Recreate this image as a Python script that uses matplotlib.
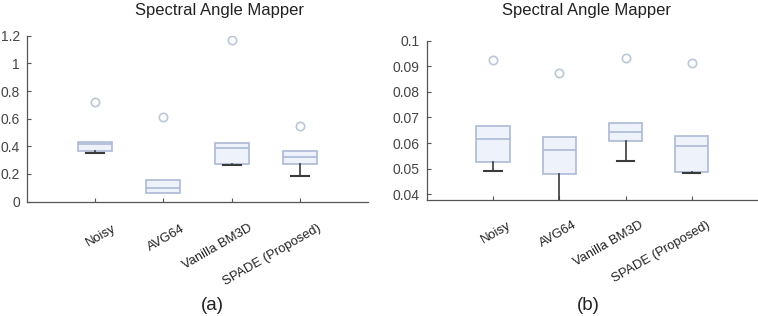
import matplotlib
matplotlib.use("Agg")
import matplotlib.pyplot as plt
from matplotlib.transforms import ScaledTranslation

plt.rcParams['font.family'] = ['Liberation Sans', 'DejaVu Sans']

categories = ["Noisy", "AVG64", "Vanilla BM3D", "SPADE (Proposed)"]

# panel (a)
a_whislo = [0.355, 0.065, 0.265, 0.185]
a_q1 = [0.365, 0.065, 0.27, 0.27]
a_med = [0.415, 0.10, 0.39, 0.32]
a_q3 = [0.43, 0.155, 0.425, 0.365]
a_whishi = [0.43, 0.155, 0.425, 0.365]
a_out = [0.72, 0.61, 1.17, 0.55]

# panel (b)
b_whislo = [0.049, 0.030, 0.0528, 0.0481]
b_q1 = [0.0524, 0.0478, 0.0609, 0.0485]
b_med = [0.0615, 0.0572, 0.0644, 0.0589]
b_q3 = [0.0666, 0.0622, 0.0679, 0.0628]
b_whishi = [0.0666, 0.0622, 0.0679, 0.0628]
b_out = [0.0926, 0.0875, 0.0932, 0.0914]

title = "Spectral Angle Mapper"

edge = "#adbad6"
fill = "#eef2fb"
dark = "#3a3a3a"


def stats(lo, q1, med, q3, hi, out):
    return [dict(whislo=lo[i], q1=q1[i], med=med[i], q3=q3[i], whishi=hi[i],
                 fliers=[out[i]], label=categories[i]) for i in range(len(lo))]


def draw(ax, st, dx, dy):
    res = ax.bxp(st, positions=range(1, len(st) + 1), widths=0.5, capwidths=0.26,
                 patch_artist=True,
                 boxprops=dict(facecolor=fill, edgecolor=edge, linewidth=1.2),
                 medianprops=dict(color=edge, linewidth=1.2),
                 whiskerprops=dict(color=dark, linewidth=1.2),
                 capprops=dict(color=dark, linewidth=1.5),
                 flierprops=dict(marker='o', markerfacecolor='none', markeredgecolor='#bcc6da',
                                 markersize=6, markeredgewidth=1.2))
    for i, s in enumerate(st):
        res['caps'][2 * i + 1].set_visible(False)
        res['whiskers'][2 * i + 1].set_visible(False)
        if s['whislo'] >= s['q1']:
            res['caps'][2 * i].set_visible(False)
    ax.set_xlim(0, 5)
    for s in ['top', 'right']:
        ax.spines[s].set_visible(False)
    for s in ['left', 'bottom']:
        ax.spines[s].set_color('#555555')
        ax.spines[s].set_linewidth(0.9)
    ax.tick_params(direction='in', length=3, colors='#555555', labelcolor='#444444',
                   labelsize=10, width=0.8)
    ax.tick_params(axis='y', pad=5)
    ax.set_xticks(range(1, 5))
    ax.set_xticklabels(categories, rotation=30, ha='right', va='top', rotation_mode='anchor',
                       fontsize=9.4, color='#222222')
    off = ScaledTranslation(dx / 100, dy / 100, ax.figure.dpi_scale_trans)
    for lab in ax.get_xticklabels():
        lab.set_transform(lab.get_transform() + off)


fig = plt.figure(figsize=(7.58, 3.16), dpi=100)
ax1 = fig.add_axes([0.0356, 0.362, 0.45, 0.525])
draw(ax1, stats(a_whislo, a_q1, a_med, a_q3, a_whishi, a_out), 17, -16)
ax1.set_ylim(0, 1.2)
ax1.set_yticks([0, 0.2, 0.4, 0.6, 0.8, 1.0, 1.2])
ax1.set_yticklabels(["0", "0.2", "0.4", "0.6", "0.8", "1", "1.2"])

ax2 = fig.add_axes([0.563, 0.367, 0.437, 0.504])
draw(ax2, stats(b_whislo, b_q1, b_med, b_q3, b_whishi, b_out), 14, -14)
ax2.set_ylim(0.0377, 0.1)
ax2.set_yticks([0.04, 0.05, 0.06, 0.07, 0.08, 0.09, 0.1])
ax2.set_yticklabels(["0.04", "0.05", "0.06", "0.07", "0.08", "0.09", "0.1"])

fig.text(135 / 758, 1 - 15 / 316, title, ha='left', va='baseline', fontsize=12, color='#222222')
fig.text(502 / 758, 1 - 15 / 316, title, ha='left', va='baseline', fontsize=12, color='#222222')
fig.text(212 / 758, 1 - 305 / 316, "(a)", ha='center', va='center', fontsize=13.5, color='#222222')
fig.text(588 / 758, 1 - 305 / 316, "(b)", ha='center', va='center', fontsize=13.5, color='#222222')

fig.savefig("out.png", dpi=100)
